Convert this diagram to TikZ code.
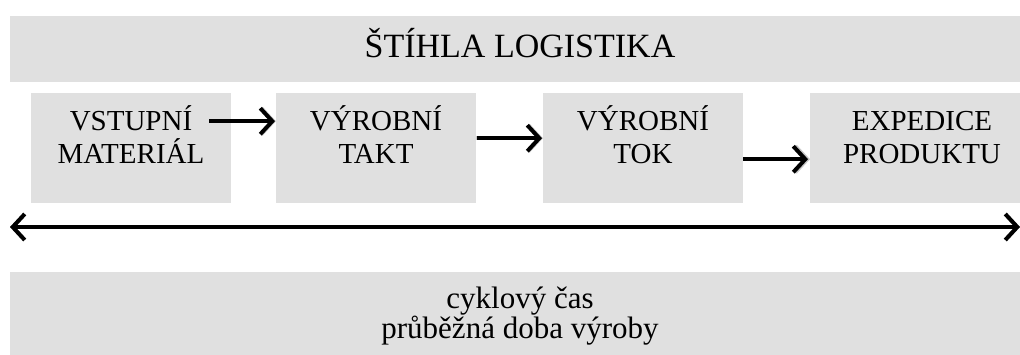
\documentclass[tikz,border=0pt]{standalone}
\usepackage{fontspec}
\setmainfont{Liberation Serif}
\usetikzlibrary{arrows.meta}
\definecolor{boxgray}{RGB}{224,224,224}
\begin{document}
\begin{tikzpicture}[x=1pt,y=-1pt,
  panel/.style={fill=boxgray, draw=none, inner sep=0pt, anchor=north west},
  stepbox/.style={panel, minimum width=200pt, minimum height=110pt},
  boxtext/.style={inner sep=0pt, align=center, anchor=base, font=\fontsize{29}{33}\selectfont},
  flow/.style={line width=4pt, -{Straight Barb[length=12pt,width=26pt]}},
  both/.style={line width=4pt, {Straight Barb[length=12pt,width=26pt]}-{Straight Barb[length=12pt,width=26pt]}},
  shade/.style={draw=black, opacity=0.22, line width=5pt}
]
\useasboundingbox (0,0) rectangle (1020,354);
% banners
\node[panel, minimum width=1022pt, minimum height=66.5pt] (top) at (9.5,15.5) {};
\node[inner sep=0pt, anchor=base, font=\fontsize{34}{40}\selectfont] (title) at (520,57) {ŠTÍHLA LOGISTIKA};
\node[panel, minimum width=1022pt, minimum height=90pt] (bottom) at (10,272) {};
\node[inner sep=0pt, align=center, anchor=base, font=\fontsize{31}{30}\selectfont] (cyc) at (520,338) {cyklový čas\\průběžná doba výroby};
% boxes
\node[stepbox] (b1) at (31,93) {};
\node[stepbox] (b2) at (276,93) {};
\node[stepbox] (b3) at (543,93) {};
\node[stepbox, minimum width=224pt] (b4) at (810,93) {};
\node[boxtext] (t1) at (131,163) {VSTUPNÍ\\MATERIÁL};
\node[boxtext] (t2) at (376,163) {VÝROBNÍ\\TAKT};
\node[boxtext] (t3) at (643,163) {VÝROBNÍ\\TOK};
\node[boxtext] (t4) at (922,163) {EXPEDICE\\PRODUKTU};
% arrows
\coordinate (dl) at (10,227);
\coordinate (dr) at (1020,227);
\begin{scope}[shift={(1.5,2.5)}]
\draw[shade, flow] ([xshift=-22pt,yshift=27pt]b1.east) -- ([yshift=27pt]b2.west);
\draw[shade, flow] ([yshift=10pt]b2.east) -- ([yshift=10pt]b3.west);
\draw[shade, flow] ([yshift=-11pt]b3.east) -- ([yshift=-11pt]b4.west);
\draw[shade, both] (dl) -- (dr);
\end{scope}
\draw[flow] ([xshift=-22pt,yshift=27pt]b1.east) -- ([xshift=-1pt,yshift=27pt]b2.west);
\draw[flow] ([xshift=1pt,yshift=10pt]b2.east) -- ([xshift=-1pt,yshift=10pt]b3.west);
\draw[flow] ([yshift=-11pt]b3.east) -- ([xshift=-2pt,yshift=-11pt]b4.west);
\draw[both] (dl) -- (dr);
\end{tikzpicture}
\end{document}
